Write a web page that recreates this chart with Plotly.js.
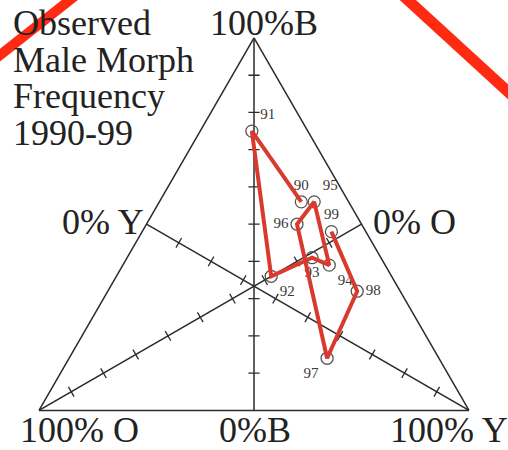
<!DOCTYPE html>
<html>
<head>
<meta charset="utf-8">
<script src="https://cdn.plot.ly/plotly-3.0.1.min.js"></script>
<style>
  html, body { margin: 0; padding: 0; background: #fff; }
  #graphDiv { width: 508px; height: 450px; }
</style>
</head>
<body>
<div id="graphDiv"></div>
<script>
// observed morph frequencies (percent)
var years = ['90', '91', '92', '93', '94', '95', '96', '97', '98', '99'];
var pctB = [56, 75, 36, 41, 39, 56, 50, 14, 32, 48];
var pctO = [11, 13, 28, 16, 13, 8, 15, 26, 10, 8];
var pctY = [33, 12, 36, 43, 48, 36, 35, 60, 58, 44];
var labelPos = ['top center', 'top right', 'bottom right', 'bottom center', 'bottom right',
                'top right', 'middle left', 'bottom left', 'middle right', 'top center'];

var tickSteps = [10, 20, 30, 40, 50, 60, 70, 80, 90];

var serif = 'Liberation Serif, Times New Roman, serif';
var axisColor = '#2b2b2b';

// altitudes from each vertex to the middle of the opposite side
var axA = [100, 0, null, 0, 50, null, 0, 50];
var axB = [0, 50, null, 100, 0, null, 0, 50];
var axC = [0, 50, null, 0, 50, null, 100, 0];

// small cross ticks on each altitude
var e = 1.3;
var tA = [], tB = [], tC = [];
tickSteps.forEach(function(t){
  var h = (100 - t) / 2;
  // B axis
  tA.push(t, t, null); tB.push(h + e, h - e, null); tC.push(h - e, h + e, null);
  // O axis
  tB.push(t, t, null); tA.push(h + e, h - e, null); tC.push(h - e, h + e, null);
  // Y axis
  tC.push(t, t, null); tA.push(h + e, h - e, null); tB.push(h - e, h + e, null);
});

var axesTrace = {
  type: 'scatterternary', mode: 'lines',
  a: axA, b: axB, c: axC,
  line: {color: axisColor, width: 1.5},
  hoverinfo: 'skip', showlegend: false
};

var ticksTrace = {
  type: 'scatterternary', mode: 'lines',
  a: tA, b: tB, c: tC,
  line: {color: axisColor, width: 1.3},
  hoverinfo: 'skip', showlegend: false
};

var pointsTrace = {
  type: 'scatterternary', mode: 'markers+text',
  a: pctB, b: pctO, c: pctY,
  text: years,
  textposition: labelPos,
  textfont: {family: serif, size: 15, color: '#3a3a3a'},
  marker: {symbol: 'circle-open', size: 12, color: '#555', line: {width: 1.3}},
  cliponaxis: false, showlegend: false
};

var pathTrace = {
  type: 'scatterternary', mode: 'lines',
  a: pctB, b: pctO, c: pctY,
  line: {color: '#d93a2e', width: 4},
  cliponaxis: false, showlegend: false
};

var hiddenAxis = {
  showgrid: false, showticklabels: false, ticks: '',
  showline: true, linecolor: axisColor, linewidth: 1.5,
  title: {text: ''}, min: 0
};

function lbl(text, x, y, xanchor){
  return {
    text: text, xref: 'paper', yref: 'paper',
    x: x / 508, y: 1 - y / 450,
    xanchor: xanchor, yanchor: 'middle',
    showarrow: false,
    font: {family: serif, size: 36, color: '#222'}
  };
}

var layout = {
  width: 508, height: 450,
  margin: {l: 0, r: 0, t: 0, b: 0},
  paper_bgcolor: '#fff',
  showlegend: false,
  ternary: {
    sum: 100,
    domain: {x: [39 / 508, 469 / 508], y: [0.0818, 0.9218]},
    bgcolor: 'rgba(0,0,0,0)',
    aaxis: hiddenAxis, baxis: hiddenAxis, caxis: hiddenAxis
  },
  annotations: [
    lbl('Observed', 11, 23, 'left'),
    lbl('Male Morph', 11, 60, 'left'),
    lbl('Frequency', 11, 96, 'left'),
    lbl('1990-99', 11, 133, 'left'),
    lbl('100%B', 264, 23, 'center'),
    lbl('0% Y', 146, 222, 'right'),
    lbl('0% O', 371, 222, 'left'),
    lbl('100% O', 79, 430, 'center'),
    lbl('0%B', 255, 430, 'center'),
    lbl('100% Y', 388, 430, 'left')
  ],
  shapes: [
    {type: 'line', xref: 'paper', yref: 'paper', layer: 'above',
     x0: -10 / 508, y0: 1 - 63 / 450, x1: 80 / 508, y1: 1 + 8 / 450,
     line: {color: '#ff2a12', width: 10}},
    {type: 'line', xref: 'paper', yref: 'paper', layer: 'above',
     x0: 398 / 508, y0: 1 + 9 / 450, x1: 518 / 508, y1: 1 - 101 / 450,
     line: {color: '#ff2a12', width: 11}}
  ]
};

Plotly.newPlot('graphDiv', [axesTrace, ticksTrace, pointsTrace, pathTrace], layout,
  {displayModeBar: false, staticPlot: true});
</script>
</body>
</html>
